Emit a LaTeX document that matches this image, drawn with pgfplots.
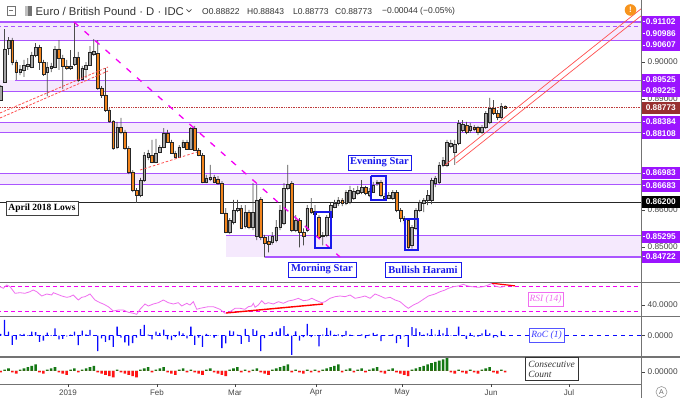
\documentclass[border=0pt]{standalone}
\usepackage{pgfplots}
\pgfplotsset{compat=1.18}
\usepackage{pgfplotstable}
\usepackage{fontspec}
\setmainfont{Liberation Serif}
\newfontfamily\sans{Liberation Sans}
\newcommand\tvf[1]{\sans\fontsize{#1}{#1}\selectfont}
\definecolor{lvl}{RGB}{170,85,255}
\definecolor{band}{RGB}{245,233,253}
\definecolor{lab}{RGB}{155,20,255}
\definecolor{candleup}{RGB}{165,165,165}
\definecolor{candledn}{RGB}{242,132,28}
\definecolor{mag}{RGB}{245,0,245}
\definecolor{trred}{RGB}{255,80,80}
\definecolor{pline}{RGB}{190,60,60}
\definecolor{bx}{RGB}{25,25,235}
\definecolor{rsic}{RGB}{240,110,240}
\definecolor{rocb}{RGB}{10,10,255}
\definecolor{cg}{RGB}{20,120,20}
\definecolor{cr}{RGB}{255,20,20}
\definecolor{sep}{RGB}{115,115,115}
\definecolor{txt}{RGB}{70,70,70}
\definecolor{orng}{RGB}{247,148,29}

\pgfplotstableread{
n o h l c r k
0 0.8898 0.8939 0.8896 0.8936 0.12 -1
1 0.8947 0.9091 0.8945 0.9037 1.15 1
2 0.9040 0.9069 0.9021 0.9061 0.28 2
3 0.9061 0.9067 0.8993 0.9001 -0.69 -1
4 0.9001 0.9007 0.8953 0.8974 -0.31 -2
5 0.8974 0.8993 0.8966 0.8983 0.09 1
6 0.8980 0.9007 0.8961 0.8993 0.12 2
7 0.8991 0.9012 0.8980 0.8996 0.03 3
8 0.8988 0.9029 0.8985 0.9021 0.28 4
9 0.9021 0.9053 0.9015 0.9042 0.25 5
10 0.9042 0.9048 0.8980 0.9001 -0.47 -1
11 0.9001 0.9007 0.8964 0.8969 -0.37 -2
12 0.8974 0.9001 0.8909 0.8988 0.22 1
13 0.8985 0.8999 0.8974 0.8991 0.03 2
14 0.8988 0.9045 0.8985 0.9037 0.53 3
15 0.9037 0.9061 0.8980 0.9012 -0.28 -1
16 0.9012 0.9021 0.8928 0.8991 -0.25 -2
17 0.8991 0.9007 0.8980 0.8985 -0.06 -3
18 0.8985 0.9034 0.8980 0.8991 0.06 1
19 0.8996 0.9110 0.8991 0.9015 0.28 2
20 0.9015 0.9029 0.8947 0.8953 -0.72 -1
21 0.8955 0.8991 0.8953 0.8985 0.37 1
22 0.8983 0.9001 0.8958 0.8993 0.09 2
23 0.8993 0.9045 0.8991 0.9029 0.41 3
24 0.9023 0.9064 0.9018 0.9031 0.03 4
25 0.9026 0.9061 0.8926 0.8931 -1.15 -1
26 0.8931 0.8936 0.8904 0.8912 -0.22 -2
27 0.8912 0.8985 0.8866 0.8871 -0.47 -3
28 0.8871 0.8877 0.8836 0.8841 -0.34 -4
29 0.8841 0.8844 0.8763 0.8768 -0.84 -5
30 0.8771 0.8839 0.8765 0.8825 0.66 1
31 0.8825 0.8850 0.8806 0.8812 -0.16 -1
32 0.8812 0.8817 0.8763 0.8768 -0.50 -2
33 0.8768 0.8773 0.8697 0.8703 -0.75 -3
34 0.8703 0.8708 0.8648 0.8654 -0.56 -4
35 0.8654 0.8659 0.8619 0.8640 -0.16 -5
36 0.8640 0.8687 0.8635 0.8681 0.47 1
37 0.8681 0.8757 0.8676 0.8749 0.78 2
38 0.8743 0.8763 0.8735 0.8754 0.06 3
39 0.8749 0.8790 0.8727 0.8730 -0.28 -1
40 0.8730 0.8793 0.8727 0.8754 0.28 1
41 0.8757 0.8776 0.8754 0.8771 0.19 2
42 0.8771 0.8822 0.8768 0.8809 0.44 3
43 0.8809 0.8817 0.8782 0.8784 -0.28 -1
44 0.8784 0.8790 0.8752 0.8754 -0.34 -2
45 0.8754 0.8760 0.8741 0.8743 -0.12 -3
46 0.8743 0.8776 0.8741 0.8771 0.31 1
47 0.8771 0.8790 0.8768 0.8784 0.16 2
48 0.8784 0.8790 0.8763 0.8765 -0.22 -1
49 0.8765 0.8825 0.8763 0.8822 0.66 1
50 0.8822 0.8828 0.8760 0.8763 -0.69 -1
51 0.8763 0.8768 0.8746 0.8749 -0.16 -2
52 0.8749 0.8754 0.8673 0.8676 -0.84 -3
53 0.8676 0.8695 0.8673 0.8687 0.12 1
54 0.8684 0.8722 0.8678 0.8689 0.03 2
55 0.8689 0.8695 0.8673 0.8676 -0.16 -1
56 0.8684 0.8692 0.8668 0.8673 -0.03 -2
57 0.8673 0.8678 0.8589 0.8592 -0.94 -3
58 0.8592 0.8605 0.8537 0.8540 -0.59 -4
59 0.8540 0.8578 0.8534 0.8572 0.37 1
60 0.8567 0.8627 0.8561 0.8600 0.31 2
61 0.8600 0.8627 0.8594 0.8605 0.06 3
62 0.8605 0.8613 0.8548 0.8550 -0.62 -1
63 0.8556 0.8613 0.8550 0.8594 0.50 1
64 0.8594 0.8600 0.8548 0.8553 -0.47 -1
65 0.8553 0.8673 0.8545 0.8594 0.47 1
66 0.8529 0.8668 0.8518 0.8627 0.37 2
67 0.8630 0.8635 0.8518 0.8526 -1.15 -1
68 0.8526 0.8532 0.8471 0.8510 -0.19 -2
69 0.8515 0.8529 0.8485 0.8506 -0.03 -3
70 0.8512 0.8540 0.8506 0.8529 0.25 1
71 0.8518 0.8572 0.8512 0.8553 0.28 2
72 0.8553 0.8613 0.8545 0.8600 0.53 3
73 0.8564 0.8673 0.8559 0.8659 0.69 4
74 0.8659 0.8722 0.8654 0.8670 0.12 5
75 0.8673 0.8678 0.8540 0.8545 -1.44 -1
76 0.8545 0.8586 0.8540 0.8572 0.31 1
77 0.8572 0.8578 0.8498 0.8540 -0.37 -1
78 0.8540 0.8550 0.8504 0.8529 -0.12 -2
79 0.8545 0.8613 0.8540 0.8605 0.87 1
80 0.8605 0.8632 0.8589 0.8594 -0.12 -1
81 0.8589 0.8613 0.8583 0.8597 0.03 1
82 0.8581 0.8586 0.8523 0.8526 -0.81 -1
83 0.8529 0.8540 0.8504 0.8531 0.06 1
84 0.8531 0.8586 0.8526 0.8581 0.56 2
85 0.8581 0.8619 0.8575 0.8613 0.37 3
86 0.8608 0.8627 0.8605 0.8619 0.06 4
87 0.8619 0.8635 0.8610 0.8627 0.09 5
88 0.8627 0.8632 0.8610 0.8619 -0.09 -1
89 0.8619 0.8654 0.8613 0.8648 0.34 1
90 0.8621 0.8665 0.8616 0.8654 0.06 2
91 0.8632 0.8659 0.8627 0.8651 -0.03 -1
92 0.8646 0.8665 0.8640 0.8654 0.03 1
93 0.8648 0.8681 0.8643 0.8662 0.09 2
94 0.8662 0.8665 0.8640 0.8646 -0.19 -1
95 0.8640 0.8659 0.8635 0.8651 0.06 1
96 0.8648 0.8676 0.8646 0.8668 0.19 2
97 0.8673 0.8681 0.8665 0.8676 0.09 3
98 0.8676 0.8681 0.8635 0.8640 -0.41 -1
99 0.8632 0.8646 0.8627 0.8638 -0.03 -2
100 0.8632 0.8648 0.8630 0.8640 0.03 1
101 0.8632 0.8654 0.8627 0.8648 0.09 2
102 0.8648 0.8654 0.8594 0.8600 -0.56 -1
103 0.8600 0.8605 0.8567 0.8578 -0.25 -2
104 0.8578 0.8583 0.8561 0.8572 -0.06 -3
105 0.8572 0.8578 0.8491 0.8498 -0.84 -4
106 0.8504 0.8559 0.8495 0.8553 0.62 1
107 0.8550 0.8605 0.8545 0.8600 0.53 2
108 0.8600 0.8627 0.8594 0.8621 0.25 3
109 0.8619 0.8632 0.8594 0.8627 0.06 4
110 0.8627 0.8654 0.8613 0.8640 0.16 5
111 0.8627 0.8687 0.8616 0.8681 0.47 6
112 0.8673 0.8692 0.8662 0.8687 0.06 7
113 0.8676 0.8730 0.8670 0.8722 0.41 8
114 0.8722 0.8743 0.8716 0.8735 0.16 9
115 0.8722 0.8790 0.8716 0.8784 0.56 10
116 0.8773 0.8790 0.8768 0.8782 -0.03 -1
117 0.8757 0.8790 0.8722 0.8779 -0.03 -2
118 0.8782 0.8844 0.8776 0.8836 0.66 1
119 0.8817 0.8844 0.8812 0.8833 -0.03 -1
120 0.8830 0.8839 0.8806 0.8812 -0.25 -2
121 0.8817 0.8836 0.8809 0.8828 0.19 1
122 0.8825 0.8830 0.8814 0.8820 -0.09 -1
123 0.8825 0.8828 0.8803 0.8812 -0.09 -2
124 0.8812 0.8830 0.8806 0.8825 0.16 1
125 0.8825 0.8868 0.8820 0.8863 0.44 2
126 0.8839 0.8904 0.8833 0.8877 0.16 3
127 0.8877 0.8898 0.8858 0.8863 -0.16 -1
128 0.8863 0.8871 0.8844 0.8852 -0.12 -2
129 0.8852 0.8890 0.8847 0.8882 0.34 1
130 0.8882 0.8884 0.8877 0.8877 -0.05 -1
}\candles

\pgfplotstableread{
x y
-0.18 68.9
0.67 66.3
1.55 71.6
2.40 68.9
3.69 58.3
4.97 59.3
6.26 58.3
7.55 60.9
8.40 63.6
9.28 60.9
10.57 54.0
11.86 57.2
13.14 55.6
13.56 59.3
14.43 57.2
15.72 54.0
17.01 51.9
17.86 52.9
18.71 55.6
20.00 47.6
20.88 51.9
21.73 52.9
23.02 57.2
24.30 47.6
25.59 43.3
26.44 41.2
27.73 36.9
29.02 30.0
30.31 31.6
31.60 31.6
32.89 27.9
34.18 26.3
35.05 24.7
35.90 32.7
37.19 41.2
38.04 38.0
39.33 41.2
40.62 43.3
41.91 47.6
43.20 43.3
44.48 41.2
45.77 43.3
46.65 38.0
47.94 42.3
48.79 39.6
49.64 44.9
50.52 32.7
51.37 34.3
52.66 35.9
53.51 36.9
54.80 36.9
56.52 32.7
57.81 26.3
59.10 28.9
60.39 34.3
61.67 34.3
62.96 32.7
63.81 36.9
64.69 38.0
65.10 42.3
65.54 35.9
66.39 39.6
67.27 46.5
68.12 41.2
68.97 43.3
70.26 41.2
71.55 44.9
72.84 42.3
74.12 46.0
75.41 47.6
76.70 50.3
77.99 46.5
79.28 47.6
80.15 50.3
81.44 46.5
82.73 43.3
83.58 44.9
84.87 50.3
86.16 52.9
87.45 54.0
88.74 52.9
90.03 55.6
91.31 50.3
92.60 51.9
93.89 54.0
95.18 50.3
96.47 57.2
97.76 54.0
99.05 50.3
100.34 51.9
101.62 47.6
102.91 44.9
104.20 38.0
105.05 34.3
106.34 39.6
107.63 43.3
108.92 48.7
110.21 54.0
111.93 57.2
113.22 60.9
114.51 63.6
115.36 66.3
116.65 68.9
117.94 70.0
119.23 72.7
120.10 70.5
121.39 68.9
123.09 67.9
124.38 68.9
125.67 71.6
126.55 74.3
127.40 70.0
128.69 67.9
129.54 68.9
130.00 70.0
}\rsi

\pgfplotsset{
 panel/.style={scale only axis, width=641pt, anchor=south west, xmin=-0.18, xmax=165, hide axis},
 mainp/.style={panel, height=282pt, at={(0pt,116pt)}, ymin=0.84043, ymax=0.91699},
}

\begin{document}
\begin{tikzpicture}
\useasboundingbox (0,0) rectangle (680pt,398pt);
\fill[white] (0,0) rectangle (680pt,398pt);

% ---------- main panel: bands, levels
\begin{axis}[mainp]
\addplot[fill=band, draw=none] coordinates {(-1,0.90607) (166,0.90607) (166,0.91102) (-1,0.91102)};
\addplot[fill=band, draw=none] coordinates {(-1,0.89225) (166,0.89225) (166,0.89525) (-1,0.89525)};
\addplot[fill=band, draw=none] coordinates {(-1,0.88108) (166,0.88108) (166,0.88384) (-1,0.88384)};
\addplot[fill=band, draw=none] coordinates {(-1,0.86683) (166,0.86683) (166,0.86983) (-1,0.86983)};
\addplot[fill=band, draw=none] coordinates {(58.1,0.84722) (166,0.84722) (166,0.85295) (58.1,0.85295)};
\addplot[lvl, line width=1.1pt] coordinates {(-1,0.91102) (166,0.91102)};
\addplot[lvl, line width=1.1pt, dash pattern=on 4pt off 3pt] coordinates {(-1,0.90986) (166,0.90986)};
\addplot[lvl, line width=1.1pt] coordinates {(-1,0.90607) (166,0.90607)};
\addplot[lvl, line width=1.1pt] coordinates {(3.7,0.89525) (166,0.89525)};
\addplot[lvl, line width=1.1pt] coordinates {(-1,0.89225) (166,0.89225)};
\addplot[lvl, line width=1.1pt] coordinates {(-1,0.88384) (166,0.88384)};
\addplot[lvl, line width=1.1pt] coordinates {(-1,0.88108) (166,0.88108)};
\addplot[lvl, line width=1.1pt] coordinates {(-1,0.86983) (166,0.86983)};
\addplot[lvl, line width=1.1pt] coordinates {(-1,0.86683) (166,0.86683)};
\addplot[lvl, line width=1.1pt] coordinates {(58.1,0.85295) (166,0.85295)};
\addplot[lvl, line width=1.1pt] coordinates {(68.1,0.84722) (166,0.84722)};
\addplot[black!85, line width=0.8pt] coordinates {(-1,0.86200) (166,0.86200)};
\addplot[pline, line width=1.1pt, dash pattern=on 0.8pt off 0.9pt] coordinates {(-1,0.88773) (166,0.88773)};
\end{axis}

% ---------- wicks (low to high)
\begin{axis}[mainp, ybar stacked, bar width=0.75pt]
\addplot[draw=none, fill=none] table[x=n, y=l]{\candles};
\addplot[draw=none, fill=black!70] table[x=n, y expr={\thisrow{h}-\thisrow{l}}]{\candles};
\end{axis}

% ---------- candle bodies
\begin{axis}[mainp, ybar stacked, bar width=2.7pt]
\addplot[draw=none, fill=none] table[x=n, y expr={min(\thisrow{o},\thisrow{c})}]{\candles};
\addplot[draw=black!85, line width=0.45pt, fill=candleup] table[x=n, y expr={(\thisrow{c}>=\thisrow{o}) ? (\thisrow{c}-\thisrow{o}) : 0}]{\candles};
\addplot[draw=black!85, line width=0.45pt, fill=candledn] table[x=n, y expr={(\thisrow{c}<\thisrow{o}) ? (\thisrow{o}-\thisrow{c}) : 0}]{\candles};
\end{axis}

% ---------- trend lines and pattern boxes
\begin{axis}[mainp]
\addplot[trred, line width=0.8pt, dash pattern=on 2.5pt off 1.5pt] coordinates {(-0.18,0.88631) (27.65,0.89880)};
\addplot[trred, line width=0.8pt, dash pattern=on 2.5pt off 1.5pt] coordinates {(-0.18,0.88495) (27.65,0.89771)};
\addplot[trred, line width=0.8pt, dash pattern=on 2.5pt off 2pt] coordinates {(35.9,0.87083) (50.6,0.87572)};
\addplot[mag, line width=1.3pt, dash pattern=on 6pt off 8pt] coordinates {(18.89,0.91102) (87.45,0.84721)};
\addplot[trred, line width=0.7pt] coordinates {(114.51,0.87219) (165.29,0.91482)};
\addplot[trred, line width=0.7pt] coordinates {(117.35,0.87273) (165.29,0.91292)};
\addplot[bx, line width=1.5pt, line join=miter] coordinates {(81.0,0.85943) (85.13,0.85943) (85.13,0.84965) (81.0,0.84965) (81.0,0.85943)};
\addplot[bx, line width=1.5pt, line join=miter] coordinates {(95.4,0.86920) (99.3,0.86920) (99.3,0.86269) (95.4,0.86269) (95.4,0.86920)};
\addplot[bx, line width=1.5pt, line join=miter] coordinates {(104.2,0.85753) (107.55,0.85753) (107.55,0.84911) (104.2,0.84911) (104.2,0.85753)};
\end{axis}

% ---------- RSI
\begin{axis}[panel, height=34pt, at={(0pt,81pt)}, ymin=20.4, ymax=74.8]
\addplot[mag, line width=0.7pt, dash pattern=on 4pt off 3pt] coordinates {(-1,70) (166,70)};
\addplot[mag, line width=0.7pt, dash pattern=on 4pt off 3pt] coordinates {(-1,30) (166,30)};
\addplot[rsic, line width=0.8pt] table[x=x, y=y]{\rsi};
\addplot[red, line width=1.4pt] coordinates {(58.07,26.8) (83.07,41.2)};
\addplot[red, line width=1.2pt] coordinates {(126.6,74.4) (132.55,70.2)};
\end{axis}

% ---------- RoC
\begin{axis}[panel, height=40pt, at={(0pt,41pt)}, ymin=-1.59, ymax=1.37]
\addplot[rocb, line width=0.6pt, dash pattern=on 4pt off 4pt] coordinates {(-1,0) (166,0)};
\addplot[ybar, bar width=1.3pt, bar shift=0pt, fill=rocb, draw=none] table[x=n, y=r]{\candles};
\end{axis}

% ---------- Consecutive count
\begin{axis}[panel, height=27pt, at={(0pt,14pt)}, ymin=-10, ymax=10.77]
\addplot[ybar, bar width=2.6pt, bar shift=0pt, fill=cg, draw=none] table[x=n, y expr={(\thisrow{k}>0) ? \thisrow{k} : 0}]{\candles};
\addplot[ybar, bar width=2.6pt, bar shift=0pt, fill=cr, draw=none] table[x=n, y expr={(\thisrow{k}<0) ? \thisrow{k} : 0}]{\candles};
\end{axis}

% ---------- decorations in pixel coordinates (origin top-left)
\begin{scope}[shift={(0pt,398pt)}, x=1pt, y=-1pt]
\draw[sep, line width=1.4pt] (0,282.5) -- (680,282.5);
\draw[sep, line width=1.4pt] (0,316.7) -- (680,316.7);
\draw[sep, line width=1.4pt] (0,357) -- (680,357);
\draw[sep, line width=1.4pt] (0,384.3) -- (641.5,384.3);
\draw[sep, line width=1pt] (641.5,0) -- (641.5,398);
\foreach \yy/\lt in {62/0.90000, 99/0.89000, 210/0.86000, 247/0.85000, 305/40.0000, 335.5/0.0000, 372/0.00000}{
  \draw[txt, line width=0.6pt] (641.5,\yy) -- (645,\yy);
  \node[anchor=west, inner sep=0pt, text=txt, font=\tvf{8.3}] at (647.5,\yy) {\lt};
}
\foreach \yy/\lt in {21.7/0.91102, 33.3/0.90986, 45/0.90607, 80/0.89525, 90.7/0.89225, 121.7/0.88384, 133.5/0.88108, 173/0.86983, 185.7/0.86683, 236.7/0.85295, 256.7/0.84722}{
  \node[fill=lab, text=white, font=\tvf{8.3}\bfseries, minimum width=38.5pt, minimum height=11.7pt, inner sep=0pt] at (660.75,\yy) {\lt};
  \draw[white, line width=0.6pt] (642.5,\yy) -- (645,\yy);
}
\node[fill=pline!80!black, text=white, font=\tvf{8.3}\bfseries, minimum width=38.5pt, minimum height=11.7pt, inner sep=0pt] at (660.75,108) {0.88773};
\node[fill=black, text=white, font=\tvf{8.3}\bfseries, minimum width=38.5pt, minimum height=11.7pt, inner sep=0pt] at (660.75,201.7) {0.86200};
\foreach \xx/\lt in {68/2019, 157/Feb, 235/Mar, 316/Apr, 402/May, 491/Jun, 569/Jul}{
  \draw[txt, line width=0.6pt] (\xx,384.3) -- (\xx,387.5);
  \node[text=txt, font=\tvf{8}, inner sep=0pt] at (\xx,392.5) {\lt};
}
\draw[black!40, line width=0.6pt] (661.5,392) circle (5.5);
\node[text=black!60, font=\tvf{7}, inner sep=0pt] at (661.5,392) {A};
\draw[black!55, line width=0.7pt] (7,6) rectangle (15,15);
\draw[black!55, line width=0.7pt] (9,10.5) -- (13,10.5);
\fill[black!55] (25,6) rectangle (32,16);
\fill[black!25] (25,6) rectangle (27.5,16);
\node[anchor=west, inner sep=0pt, text=black!80, font=\tvf{11.3}] at (35.5,11.5) {Euro / British Pound · D · IDC};
\draw[black!70, line width=0.7pt] (186.5,9.5) -- (189,12) -- (191.5,9.5);
\node[anchor=west, inner sep=0pt, text=black!80, font=\tvf{8.5}] at (202,11.5) {O0.88822};
\node[anchor=west, inner sep=0pt, text=black!80, font=\tvf{8.5}] at (247,11.5) {H0.88843};
\node[anchor=west, inner sep=0pt, text=black!80, font=\tvf{8.5}] at (293,11.5) {L0.88773};
\node[anchor=west, inner sep=0pt, text=black!80, font=\tvf{8.5}] at (335,11.5) {C0.88773};
\node[anchor=west, inner sep=0pt, text=black!80, font=\tvf{8.5}] at (382,11.5) {−0.00044 (−0.05\%)};
\fill[orng] (630.5,10) circle (5.8);
\node[text=white, font=\tvf{8}\bfseries, inner sep=0pt] at (630.5,10) {!};
\node[draw=black!75, line width=0.8pt, fill=white, minimum width=72pt, minimum height=14pt, inner sep=0pt, font=\bfseries\fontsize{9.5}{10}\selectfont] at (42,208) {April 2018 Lows};
\node[draw=bx, line width=0.8pt, fill=white, text=bx, minimum width=63pt, minimum height=15pt, inner sep=0pt, font=\bfseries\fontsize{10.5}{11}\selectfont] at (379.5,162.5) {Evening Star};
\node[draw=bx, line width=0.8pt, fill=white, text=bx, minimum width=68pt, minimum height=15pt, inner sep=0pt, font=\bfseries\fontsize{10.5}{11}\selectfont] at (322,269.5) {Morning Star};
\node[draw=bx, line width=0.8pt, fill=white, text=bx, minimum width=76pt, minimum height=15pt, inner sep=0pt, font=\bfseries\fontsize{10.5}{11}\selectfont] at (423,269.5) {Bullish Harami};
\node[draw=rsic, line width=0.8pt, fill=white, text=rsic, minimum width=35pt, minimum height=14pt, inner sep=0pt, font=\itshape\fontsize{9.5}{10}\selectfont] at (545.5,299) {RSI (14)};
\node[draw=rocb!70, line width=0.8pt, fill=white, text=rocb!80, minimum width=35pt, minimum height=14pt, inner sep=0pt, font=\itshape\fontsize{9.5}{10}\selectfont] at (546.5,335) {RoC (1)};
\node[draw=black!80, line width=0.8pt, fill=white, text=black!80, minimum width=53pt, minimum height=23pt, inner sep=1.5pt, align=left, font=\itshape\fontsize{9.5}{10}\selectfont] at (551.5,369) {Consecutive\\Count};
\end{scope}
\end{tikzpicture}
\end{document}
